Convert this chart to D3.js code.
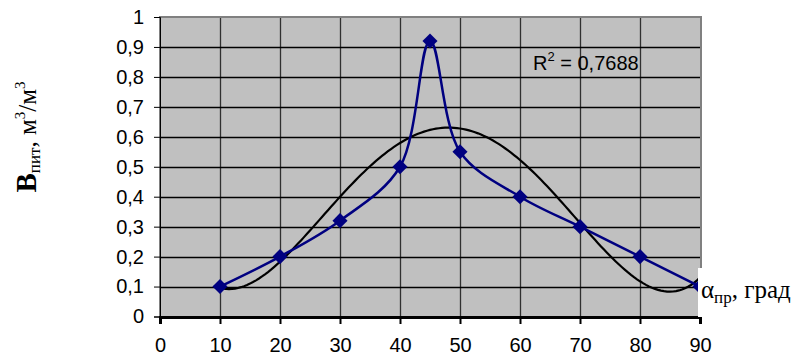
<!DOCTYPE html>
<html>
<head>
<meta charset="utf-8">
<script src="https://cdn.jsdelivr.net/npm/d3@7"></script>
<style>
  body { margin: 0; background: #fff; }
  svg { display: block; }
  .tick text { font-family: Arial, "Liberation Sans", sans-serif; font-size: 20px; fill: #000; }
</style>
</head>
<body>
<svg width="797" height="358"></svg>
<script>
// data
const angles = [10, 20, 30, 40, 45, 50, 60, 70, 80, 90];
const volumes = [0.1, 0.2, 0.32, 0.5, 0.92, 0.55, 0.4, 0.3, 0.2, 0.1];
const xTicks = [0, 10, 20, 30, 40, 50, 60, 70, 80, 90];
const yTicks = [0, 0.1, 0.2, 0.3, 0.4, 0.5, 0.6, 0.7, 0.8, 0.9, 1];
const r2Label = "0,7688";
const trendDegree = 4;

const plot = {l: 160, t: 17, r: 701, b: 317};
const svg = d3.select('svg');

const scaleX = d3.scaleLinear().domain([0, 90]).range([plot.l, plot.r - 1]);
const scaleY = d3.scaleLinear().domain([0, 1]).range([plot.b - 0.5, plot.t]);

// plot background
svg.append('rect')
    .attr('x', plot.l).attr('y', plot.t)
    .attr('width', plot.r - plot.l).attr('height', plot.b - plot.t)
    .attr('fill', '#c0c0c0');

// grid
svg.append('g').selectAll('line')
    .data(xTicks.slice(1, -1))
    .join('line')
    .attr('x1', d => Math.round(scaleX(d)) + 0.5).attr('x2', d => Math.round(scaleX(d)) + 0.5)
    .attr('y1', plot.t).attr('y2', plot.b)
    .attr('stroke', '#303030').attr('stroke-width', 1.3);

svg.append('g').selectAll('line')
    .data(yTicks.slice(1, -1))
    .join('line')
    .attr('x1', plot.l).attr('x2', plot.r)
    .attr('y1', d => Math.round(scaleY(d)) + 0.5).attr('y2', d => Math.round(scaleY(d)) + 0.5)
    .attr('stroke', '#000').attr('stroke-width', 1.3);

// border
svg.append('rect')
    .attr('x', plot.l).attr('y', plot.t)
    .attr('width', plot.r - plot.l).attr('height', plot.b - plot.t)
    .attr('fill', 'none').attr('stroke', '#808080').attr('stroke-width', 2);

// axes
const fmt = d => String(d).replace('.', ',');
const axisY = d3.axisLeft(scaleY).tickValues(yTicks).tickFormat(fmt).tickSize(6).tickPadding(10);
svg.append('g')
    .attr('transform', `translate(${plot.l},0)`)
    .call(axisY)
    .call(g => g.select('.domain').attr('stroke', '#000').attr('stroke-width', 1));

const axisX = d3.axisBottom(scaleX).tickValues(xTicks).tickFormat(fmt).tickSize(7).tickPadding(14);
svg.append('g')
    .attr('transform', `translate(0,${plot.b})`)
    .call(axisX)
    .call(g => g.select('.domain').attr('stroke-width', 3))
    .call(g => g.selectAll('.tick line').attr('stroke-width', 2));

// polynomial trendline (least squares on the data)
function polyFit(xs, ys, deg) {
    const n = deg + 1;
    const A = Array.from({length: n}, () => new Array(n + 1).fill(0));
    xs.forEach((x0, k) => {
        const x = x0 / 100;
        for (let i = 0; i < n; i++) {
            for (let j = 0; j < n; j++) A[i][j] += Math.pow(x, i + j);
            A[i][n] += ys[k] * Math.pow(x, i);
        }
    });
    for (let i = 0; i < n; i++) {
        let p = i;
        for (let r = i + 1; r < n; r++) if (Math.abs(A[r][i]) > Math.abs(A[p][i])) p = r;
        [A[i], A[p]] = [A[p], A[i]];
        for (let r = 0; r < n; r++) {
            if (r === i) continue;
            const f = A[r][i] / A[i][i];
            for (let c = i; c <= n; c++) A[r][c] -= f * A[i][c];
        }
    }
    const coef = A.map((row, i) => row[n] / row[i]);
    return x => coef.reduce((s, c, i) => s + c * Math.pow(x / 100, i), 0);
}
const trend = polyFit(angles, volumes, trendDegree);
const trendPts = d3.range(10, 90.01, 0.5).map(x => [x, trend(x)]);

svg.append('path')
    .datum(trendPts)
    .attr('fill', 'none')
    .attr('stroke', '#000')
    .attr('stroke-width', 2.2)
    .attr('d', d3.line().x(d => scaleX(d[0])).y(d => scaleY(d[1])));

// data series
const pts = angles.map((a, i) => [a, volumes[i]]);
svg.append('path')
    .datum(pts)
    .attr('fill', 'none')
    .attr('stroke', '#000080')
    .attr('stroke-width', 2.5)
    .attr('d', d3.line().x(d => scaleX(d[0])).y(d => scaleY(d[1])).curve(d3.curveCatmullRom.alpha(0.5)));

svg.append('g').selectAll('path')
    .data(pts)
    .join('path')
    .attr('d', d3.symbol(d3.symbolDiamond2, 145))
    .attr('transform', d => `translate(${scaleX(d[0])},${scaleY(d[1])})`)
    .attr('fill', '#000080');

// R² label
const r2 = svg.append('text')
    .attr('x', 533).attr('y', 70)
    .attr('font-family', 'Arial, "Liberation Sans", sans-serif')
    .attr('font-size', 20);
r2.append('tspan').text('R');
r2.append('tspan').attr('font-size', 13).attr('dy', -9).text('2');
r2.append('tspan').attr('dy', 9).text(' = ' + r2Label);

// x axis title on white box
svg.append('rect')
    .attr('x', 698).attr('y', 268).attr('width', 99).attr('height', 49)
    .attr('fill', '#fff');
const xt = svg.append('text')
    .attr('x', 701).attr('y', 298)
    .attr('font-family', '"Liberation Serif", "Times New Roman", serif')
    .attr('font-size', 25);
xt.append('tspan').text('α');
xt.append('tspan').attr('font-size', 17).attr('dy', 5).text('пр');
xt.append('tspan').attr('dy', -5).text(', град');

// y axis title
const yt = svg.append('text')
    .attr('transform', 'translate(36,137) rotate(-90)')
    .attr('text-anchor', 'middle')
    .attr('font-family', '"Liberation Serif", "Times New Roman", serif')
    .attr('font-size', 25);
yt.append('tspan').attr('font-weight', 'bold').attr('font-size', 29).text('B');
yt.append('tspan').attr('font-size', 17).attr('dy', 4).text('пит');
yt.append('tspan').attr('dy', -4).text(', м');
yt.append('tspan').attr('font-size', 15).attr('dy', -11).text('3');
yt.append('tspan').attr('dy', 11).text('/м');
yt.append('tspan').attr('font-size', 15).attr('dy', -11).text('3');
</script>
</body>
</html>
